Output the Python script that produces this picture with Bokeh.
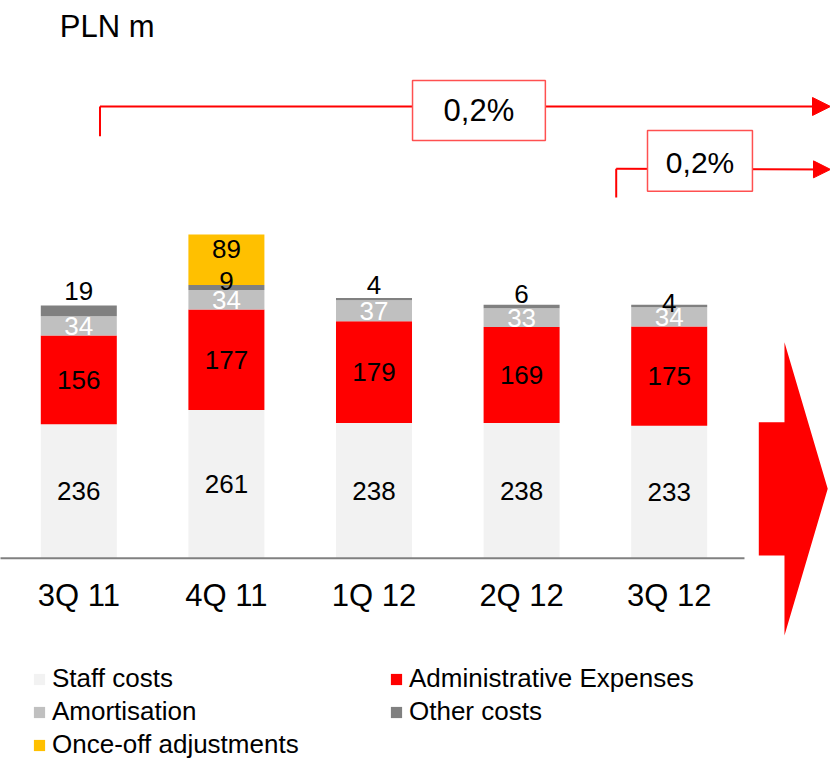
from bokeh.plotting import figure
from bokeh.models import (Range1d, ColumnDataSource, Legend, LegendItem,
                          Arrow, NormalHead, PolyAnnotation, Label, BoxAnnotation)
from bokeh.core.properties import value
from bokeh.embed import file_html
from bokeh.resources import INLINE

# ---------------- data ----------------
quarters = ["3Q 11", "4Q 11", "1Q 12", "2Q 12", "3Q 12"]
staff_costs = [236, 261, 238, 238, 233]
admin_expenses = [156, 177, 179, 169, 175]
amortisation = [34, 34, 37, 33, 34]
other_costs = [19, 9, 4, 6, 4]
once_off = [0, 89, 0, 0, 0]
growth_labels = ["0,2%", "0,2%"]

series_names = ["Staff costs", "Administrative Expenses", "Amortisation",
                "Other costs", "Once-off adjustments"]
series_colors = ["#f2f2f2", "#ff0000", "#c0c0c0", "#808080", "#ffc000"]

# ---------------- styles / positions ----------------
FONT = "Liberation Sans"
other_label_offset_px = [-14, -4, -13, -11, -2]
once_label_offset_px = -11
category_label_y = -65

x = list(range(len(quarters)))
keys = ["staff", "admin", "amort", "other", "once"]
src = ColumnDataSource(dict(x=x, staff=staff_costs, admin=admin_expenses,
                            amort=amortisation, other=other_costs, once=once_off))

p = figure(width=830, height=760, x_range=Range1d(-0.5305, 5.0928), y_range=Range1d(-356.2, 981.9),
           output_backend="svg", toolbar_location=None, x_axis_location=None, y_axis_location=None,
           min_border=0, outline_line_color=None,
           background_fill_color="white", border_fill_color="white")
p.grid.visible = False

renderers = p.vbar_stack(keys, x="x", width=0.515, fill_color=series_colors,
                         line_color=None, source=src)

# baseline (category axis line)
p.segment(x0=[-0.56], y0=[0], x1=[4.51], y1=[0], line_color="#808080", line_width=2)

# category labels
cat_src = ColumnDataSource(dict(x=x, y=[category_label_y] * len(x), t=quarters))
p.text(x="x", y="y", text="t", source=cat_src, text_align="center", text_baseline="middle",
       text_font=value(FONT), text_font_size="31px", text_color="black")

# ---------------- value labels ----------------
b1 = list(staff_costs)
b2 = [a + b for a, b in zip(b1, admin_expenses)]
b3 = [a + b for a, b in zip(b2, amortisation)]
b4 = [a + b for a, b in zip(b3, other_costs)]

lab_src = ColumnDataSource(dict(
    x=x * 3,
    y=[s / 2 for s in staff_costs] + [b + a / 2 for b, a in zip(b1, admin_expenses)] + b4,
    t=[str(v) for v in staff_costs] + [str(v) for v in admin_expenses] + [str(v) for v in other_costs],
    off=[0] * 10 + other_label_offset_px,
))
p.text(x="x", y="y", text="t", y_offset="off", source=lab_src, text_align="center",
       text_baseline="middle", text_font=value(FONT), text_font_size="26px", text_color="black")

amort_src = ColumnDataSource(dict(x=x, y=[b + a / 2 for b, a in zip(b2, amortisation)],
                                  t=[str(v) for v in amortisation]))
p.text(x="x", y="y", text="t", source=amort_src, text_align="center",
       text_baseline="middle", text_font=value(FONT), text_font_size="26px", text_color="white")

once_idx = [i for i in x if once_off[i] > 0]
once_src = ColumnDataSource(dict(x=once_idx, y=[b4[i] + once_off[i] / 2 for i in once_idx],
                                 t=[str(once_off[i]) for i in once_idx]))
p.text(x="x", y="y", text="t", y_offset=once_label_offset_px, source=once_src, text_align="center",
       text_baseline="middle", text_font=value(FONT), text_font_size="26px", text_color="black")

# ---------------- title ----------------
p.add_layout(Label(x=-0.1287, y=936.1, text="PLN m", text_font=FONT, text_font_size="31px",
                   text_baseline="middle", text_align="left", text_color="black"))

# ---------------- growth brackets ----------------
RED = "#ff0000"
# long bracket
p.line(x=[0.1436, 0.1436], y=[743.0, 795.3], line_color=RED, line_width=2)
p.add_layout(Arrow(end=NormalHead(size=18, fill_color=RED, line_color=RED, line_width=1),
                   x_start=0.1436, y_start=795.3, x_end=5.0928, y_end=795.3,
                   line_color=RED, line_width=2))
p.add_layout(BoxAnnotation(left=2.261, right=3.161, bottom=735.4, top=841.0,
                           fill_color="white", fill_alpha=1, line_color="#ff5050",
                           line_width=1.5, line_alpha=1))
p.add_layout(Label(x=2.711, y=788.2, text=growth_labels[0], text_font=FONT, text_font_size="31px",
                   text_align="center", text_baseline="middle", text_color="black"))
# short bracket
p.line(x=[3.641, 3.641], y=[635.1, 685.6], line_color=RED, line_width=2)
p.add_layout(Arrow(end=NormalHead(size=17, fill_color=RED, line_color=RED, line_width=1),
                   x_start=3.641, y_start=685.5, x_end=5.0928, y_end=684.5,
                   line_color=RED, line_width=2))
p.add_layout(BoxAnnotation(left=3.853, right=4.564, bottom=646.2, top=753.0,
                           fill_color="white", fill_alpha=1, line_color="#ff5050",
                           line_width=1.5, line_alpha=1))
p.add_layout(Label(x=4.209, y=696.7, text=growth_labels[1], text_font=FONT, text_font_size="30px",
                   text_align="center", text_baseline="middle", text_color="black"))

# ---------------- big block arrow ----------------
p.add_layout(PolyAnnotation(xs=[4.607, 4.781, 4.781, 5.074, 4.781, 4.781, 4.607],
                            ys=[239.5, 239.5, 380.3, 122.2, -136.1, 4.8, 4.8],
                            fill_color=RED, fill_alpha=1, line_color=None))

# ---------------- legend ----------------
legend = Legend(items=[LegendItem(label=n, renderers=[r]) for n, r in zip(series_names, renderers)],
                location=(32, 0), orientation="horizontal", ncols=2,
                glyph_width=14, glyph_height=14, label_standoff=6, label_width=335,
                label_height=30, spacing=2, padding=0, margin=0,
                border_line_color=None, background_fill_alpha=0,
                label_text_font=FONT, label_text_font_size="26px", label_text_color="black")
p.add_layout(legend)

open("out.html", "w").write(file_html(p, INLINE))
